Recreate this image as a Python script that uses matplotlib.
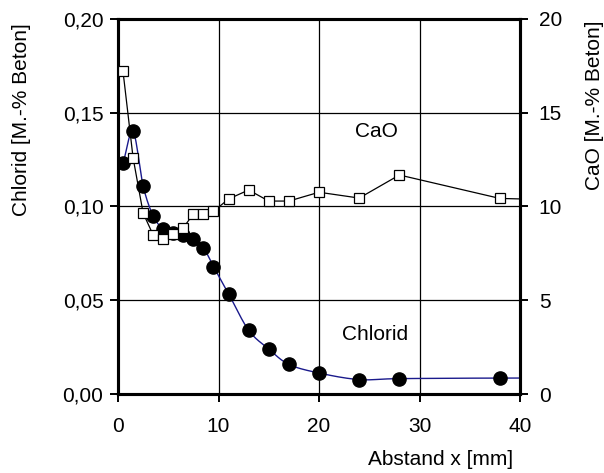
import numpy as np
import matplotlib
matplotlib.use("Agg")
import matplotlib.pyplot as plt
from matplotlib.ticker import FuncFormatter, MultipleLocator

plt.rcParams['font.family'] = ['Liberation Sans', 'DejaVu Sans']

# Data
cl_x = [0.5, 1.5, 2.5, 3.5, 4.5, 5.5, 6.5, 7.5, 8.5, 9.5, 11, 13, 15, 17, 20, 24, 28, 38, 48]
cl_y = [0.123, 0.140, 0.111, 0.095, 0.088, 0.086, 0.0846, 0.0825, 0.078, 0.068, 0.0535,
        0.034, 0.024, 0.0158, 0.0112, 0.0077, 0.0082, 0.0085, 0.0085]
cao_x = [0.5, 1.5, 2.5, 3.5, 4.5, 5.5, 6.5, 7.5, 8.5, 9.5, 11, 13, 15, 17, 20, 24, 28, 38, 48]
cao_y = [17.2, 12.6, 9.65, 8.48, 8.28, 8.52, 8.87, 9.6, 9.6, 9.74, 10.4, 10.88, 10.29, 10.29,
         10.76, 10.45, 11.68, 10.43, 10.3]
xticks = [0, 10, 20, 30, 40]


def catmull_rom(x, y, n=20):
    x = np.asarray(x, float); y = np.asarray(y, float)
    px = np.concatenate([[2 * x[0] - x[1]], x, [2 * x[-1] - x[-2]]])
    py = np.concatenate([[2 * y[0] - y[1]], y, [2 * y[-1] - y[-2]]])
    xs, ys = [], []
    t = np.linspace(0, 1, n, endpoint=False)
    for i in range(1, len(px) - 2):
        p0, p1, p2, p3 = [np.array([px[j], py[j]]) for j in (i - 1, i, i + 1, i + 2)]
        c1 = p1 + (p2 - p0) / 6.0
        c2 = p2 - (p3 - p1) / 6.0
        for tt in t:
            b = ((1 - tt) ** 3) * p1 + 3 * ((1 - tt) ** 2) * tt * c1 + 3 * (1 - tt) * tt ** 2 * c2 + tt ** 3 * p2
            xs.append(b[0]); ys.append(b[1])
    xs.append(x[-1]); ys.append(y[-1])
    return np.array(xs), np.array(ys)


FS = 15
fig = plt.figure(figsize=(6.04, 4.73), dpi=100)
ax = fig.add_axes([118 / 604, 1 - 394 / 473, (520 - 118) / 604, (394 - 19) / 473])
ax2 = ax.twinx()

ax.set_xlim(0, 40)
ax.set_ylim(0, 0.20)
ax2.set_ylim(0, 20)

for v in [10, 20, 30]:
    ax.axvline(v, color='black', lw=0.9, zorder=1)
for v in [0.05, 0.10, 0.15]:
    ax.axhline(v, color='black', lw=0.9, zorder=1)

sx, sy = catmull_rom(cl_x, cl_y)
ax.plot(sx, sy, color='#1a1a8c', lw=1.0, zorder=3)
ax.plot(cl_x, cl_y, linestyle='none', marker='o', ms=9.5, color='black', zorder=4)

ax2.plot(cao_x, cao_y, color='black', lw=0.9, marker='s', ms=7, mfc='white', mec='black', mew=0.9, zorder=5)

ax.set_xticks(xticks)
ax.yaxis.set_major_locator(MultipleLocator(0.05))
ax.yaxis.set_major_formatter(FuncFormatter(lambda v, p: f"{v:.2f}".replace('.', ',')))
ax2.yaxis.set_major_locator(MultipleLocator(5))

for a in (ax, ax2):
    a.tick_params(direction='out', length=5.5, width=1.4, labelsize=FS, colors='black')
    for s in a.spines.values():
        s.set_linewidth(2.2)
ax.tick_params(axis='x', pad=11)
ax.tick_params(axis='y', pad=5)
ax2.tick_params(axis='y', pad=8)

ax.set_ylabel("Chlorid [M.-% Beton]", fontsize=FS)
ax.yaxis.set_label_coords(-(118 - 22) / 402, (394 - 120) / 375)
ax.yaxis.label.set_va('center')
ax2.set_ylabel("CaO [M.-% Beton]", fontsize=FS)
ax2.yaxis.set_label_coords(1 + (594 - 520) / 402, (394 - 105) / 375)
ax2.yaxis.label.set_va('center')
fig.text(513 / 604, 1 - 459 / 473, "Abstand x [mm]", fontsize=FS, ha='right', va='center')

ax.text(25.7, 0.140, "CaO", fontsize=FS, ha='center', va='center')
ax.text(25.6, 0.0317, "Chlorid", fontsize=FS, ha='center', va='center')

fig.savefig("out.png", dpi=100)
